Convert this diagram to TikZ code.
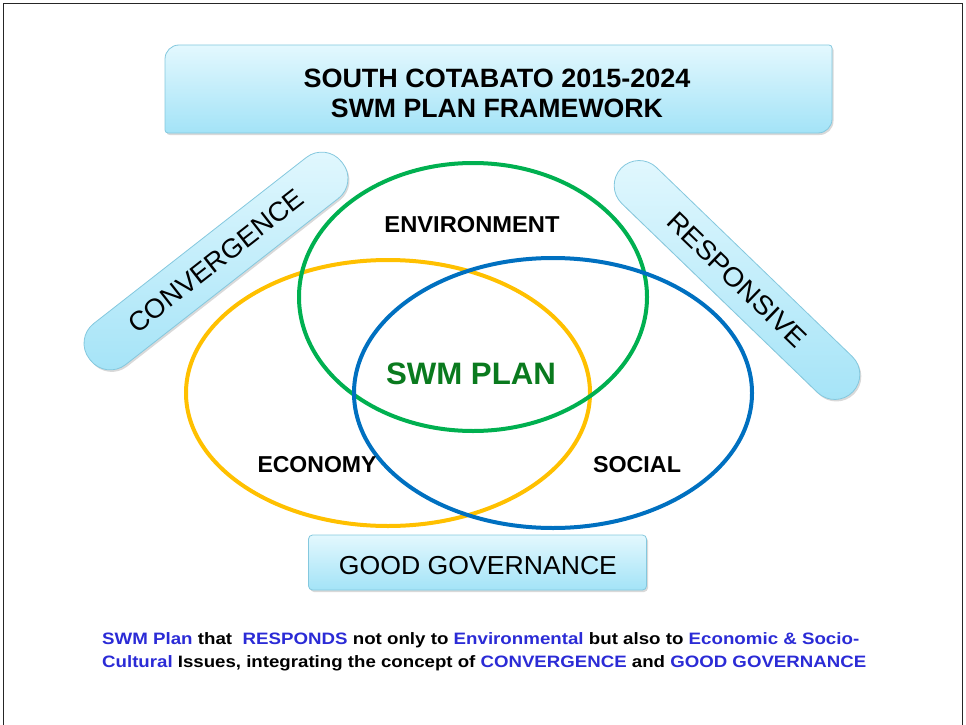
\documentclass[tikz,border=0pt]{standalone}
\usepackage{fontspec}
\setmainfont{Liberation Sans}
\usetikzlibrary{shadows}
\definecolor{boxtop}{HTML}{E3F8FE}
\definecolor{boxbot}{HTML}{A3E3F7}
\definecolor{boxline}{HTML}{84C8DE}
\definecolor{envgreen}{HTML}{00B050}
\definecolor{ecoyellow}{HTML}{FFC000}
\definecolor{socblue}{HTML}{0070C0}
\definecolor{plangreen}{HTML}{0A7A1E}
\definecolor{txtblue}{HTML}{2B2BD6}
\newcommand{\fitw}[2]{\resizebox{#1}{\height}{#2}}
\begin{document}
\begin{tikzpicture}[x=1pt,y=1pt,
  cyanbox/.style={top color=boxtop,bottom color=boxbot,draw=boxline,line width=0.8pt,
    drop shadow={shadow xshift=1.5pt,shadow yshift=-2pt,opacity=0.3}},
  pill/.style={cyanbox,rounded corners=25pt,inner sep=0pt},
  ring/.style={line width=4pt},
  lbl/.style={inner sep=0pt,anchor=base,font=\fontsize{23}{23}\selectfont\bfseries},
  ttl/.style={inner sep=0pt,anchor=base,font=\fontsize{26.5}{26.5}\selectfont\bfseries},
  btxt/.style={inner sep=0pt,anchor=base west,font=\fontsize{16.5}{16.5}\selectfont\bfseries}
]
\useasboundingbox (0,0) rectangle (966,-725);
% frame
\draw[line width=1.5pt,black!85] (3.5,-725) -- (3.5,-3.5) -- (962.5,-3.5) -- (962.5,-725);
% title box
\path[cyanbox] (179,-45) -- (829,-45) arc[start angle=90,end angle=0,radius=3pt]
  -- (832,-119) arc[start angle=0,end angle=-90,radius=14pt]
  -- (168,-133) arc[start angle=270,end angle=180,radius=3pt]
  -- (165,-59) arc[start angle=180,end angle=90,radius=14pt] -- cycle;
\node[ttl] (t1) at (497,-87) {\fitw{387pt}{SOUTH COTABATO 2015-2024}};
\node[ttl] (t2) at (497,-117) {\fitw{332pt}{SWM PLAN FRAMEWORK}};
% pills
\node[pill,rotate=38,minimum width=320pt,minimum height=52pt] (conv) at (216,-261)
  {\fontsize{27}{27}\selectfont\fitw{214pt}{CONVERGENCE}};
\node[pill,rotate=-44,minimum width=322pt,minimum height=50pt] (resp) at (737,-280)
  {\fontsize{27}{27}\selectfont\fitw{182pt}{RESPONSIVE}};
% ellipses
\draw[ring,ecoyellow] (388,-393) ellipse[x radius=202pt,y radius=133pt];
\draw[ring,envgreen] (473,-297) ellipse[x radius=174pt,y radius=134pt];
\draw[ring,socblue] (553,-393) ellipse[x radius=199pt,y radius=135pt];
% labels
\node[lbl] (env) at (472,-232) {\fitw{175pt}{ENVIRONMENT}};
\node[lbl,text=plangreen,font=\fontsize{31}{31}\selectfont\bfseries] (plan) at (471,-384) {\fitw{170pt}{SWM PLAN}};
\node[lbl] (eco) at (317,-472) {\fitw{119pt}{ECONOMY}};
\node[lbl] (soc) at (637,-472) {\fitw{88pt}{SOCIAL}};
% good governance
\node[cyanbox,rounded corners=4pt,minimum width=338pt,minimum height=55pt,inner sep=0pt] (gg) at (477.5,-562.5) {};
\node[inner sep=0pt,anchor=base,font=\fontsize{26}{26}\selectfont] (ggt) at (478,-574) {\fitw{278pt}{GOOD GOVERNANCE}};
% bottom text
\node[btxt] (b1) at (102,-644) {\fitw{757pt}{\textcolor{txtblue}{SWM Plan} that\ \ \textcolor{txtblue}{RESPONDS} not only to \textcolor{txtblue}{Environmental} but also to \textcolor{txtblue}{Economic \& Socio-}}};
\node[btxt] (b2) at (102,-667) {\fitw{764pt}{\textcolor{txtblue}{Cultural} Issues, integrating the concept of \textcolor{txtblue}{CONVERGENCE} and \textcolor{txtblue}{GOOD GOVERNANCE}}};
\end{tikzpicture}
\end{document}
